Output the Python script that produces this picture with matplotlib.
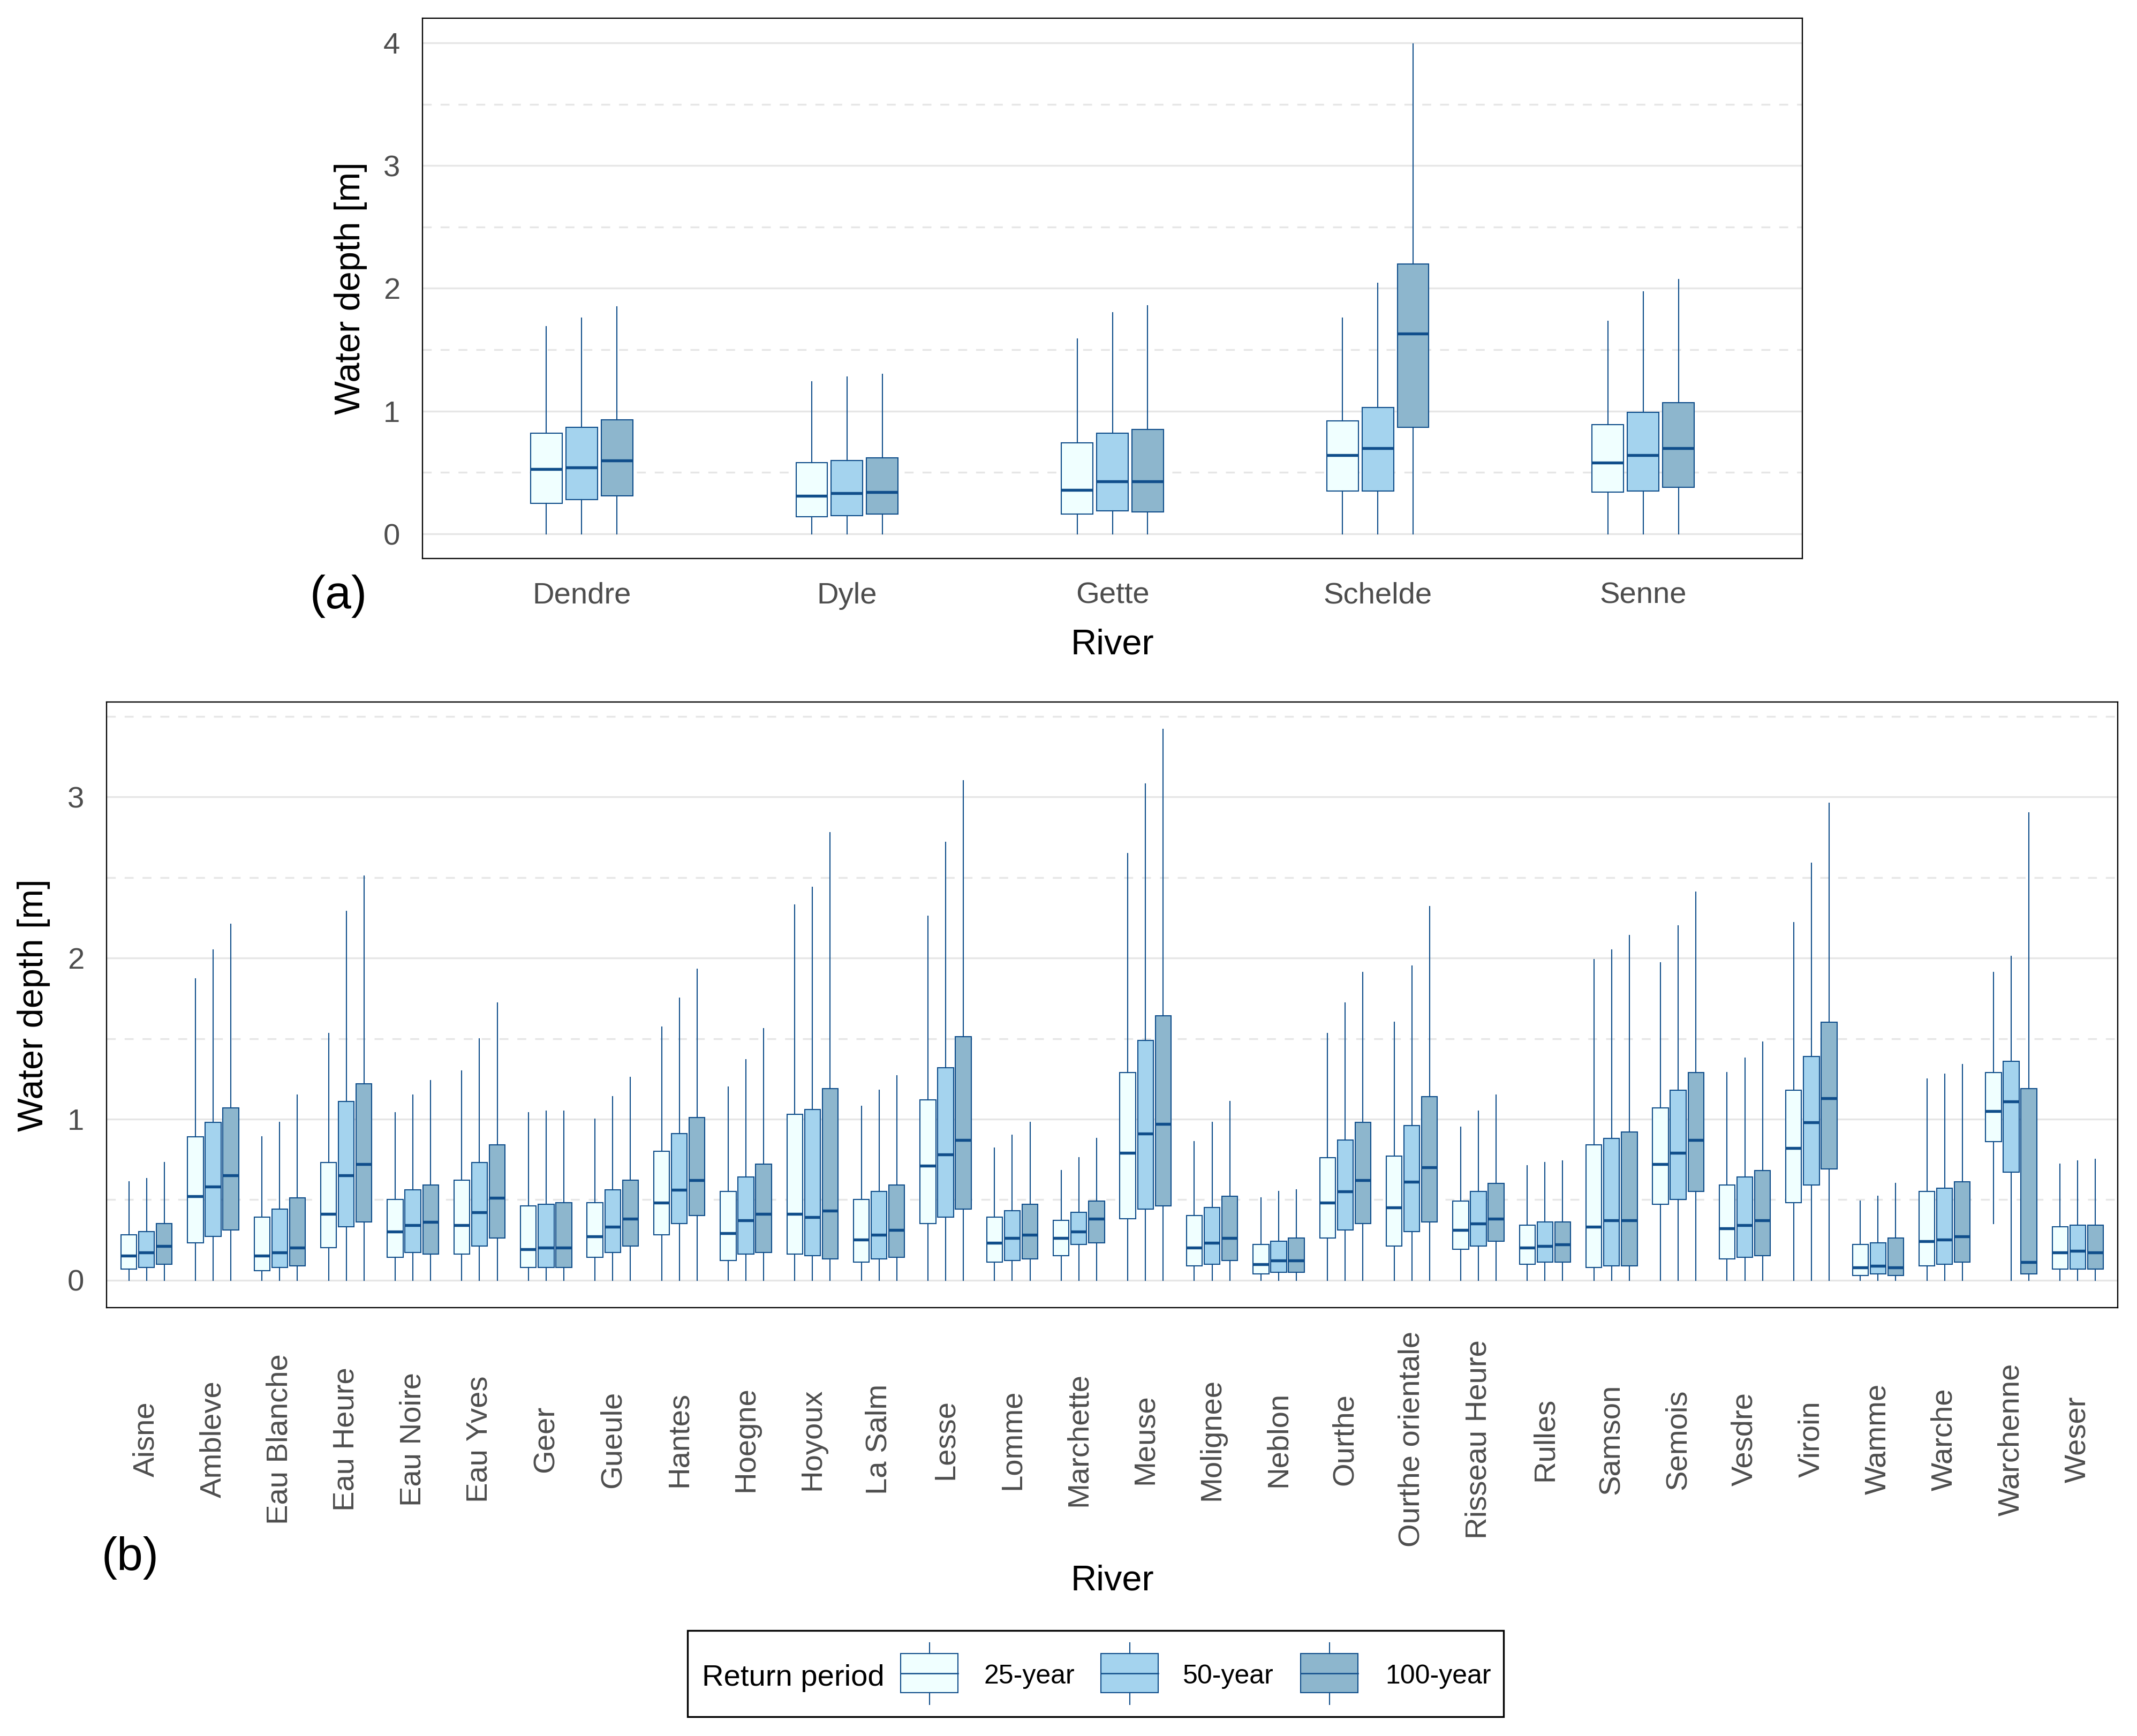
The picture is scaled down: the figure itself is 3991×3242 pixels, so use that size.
import numpy as np
import matplotlib
matplotlib.use("Agg")
import matplotlib.pyplot as plt
from matplotlib.patches import Rectangle
from matplotlib.ticker import MultipleLocator

plt.rcParams['font.family'] = ['Liberation Sans', 'DejaVu Sans']

W, H = 3991, 3242

periods = ['25-year', '50-year', '100-year']
fills = ['#F0FFFF', '#A4D3EE', '#8DB6CD']
edge = '#104E8B'
tick_col = '#4D4D4D'
grid_col = '#E6E6E6'

# ---------------- panel (a) data: one row per river, columns = 25 / 50 / 100-year
rivers_a = ['Dendre', 'Dyle', 'Gette', 'Schelde', 'Senne']
a_lo = [[0, 0, 0], [0, 0, 0], [0, 0, 0], [0, 0, 0], [0, 0, 0]]
a_q1 = [[0.25, 0.28, 0.31], [0.14, 0.15, 0.16], [0.16, 0.19, 0.18], [0.35, 0.35, 0.87], [0.34, 0.35, 0.38]]
a_med = [[0.53, 0.54, 0.60], [0.31, 0.33, 0.34], [0.36, 0.43, 0.43], [0.64, 0.70, 1.63], [0.58, 0.64, 0.70]]
a_q3 = [[0.82, 0.87, 0.93], [0.58, 0.60, 0.62], [0.74, 0.82, 0.85], [0.92, 1.03, 2.20], [0.89, 0.99, 1.07]]
a_hi = [[1.69, 1.76, 1.85], [1.24, 1.28, 1.30], [1.59, 1.80, 1.86], [1.76, 2.04, 3.99], [1.73, 1.97, 2.07]]

# ---------------- panel (b) data
rivers_b = ['Aisne', 'Ambleve', 'Eau Blanche', 'Eau Heure', 'Eau Noire', 'Eau Yves', 'Geer',
            'Gueule', 'Hantes', 'Hoegne', 'Hoyoux', 'La Salm', 'Lesse', 'Lomme', 'Marchette',
            'Meuse', 'Molignee', 'Neblon', 'Ourthe', 'Ourthe orientale', 'Risseau Heure',
            'Rulles', 'Samson', 'Semois', 'Vesdre', 'Viroin', 'Wamme', 'Warche', 'Warchenne', 'Weser']
b_hi = [[0.61, 0.63, 0.73], [1.87, 2.05, 2.21], [0.89, 0.98, 1.15], [1.53, 2.29, 2.51],
        [1.04, 1.15, 1.24], [1.30, 1.50, 1.72], [1.04, 1.05, 1.05], [1.00, 1.14, 1.26],
        [1.57, 1.75, 1.93], [1.20, 1.37, 1.56], [2.33, 2.44, 2.78], [1.08, 1.18, 1.27],
        [2.26, 2.72, 3.10], [0.82, 0.90, 0.98], [0.68, 0.76, 0.88], [2.65, 3.08, 3.42],
        [0.86, 0.98, 1.11], [0.51, 0.55, 0.56], [1.53, 1.72, 1.91], [1.60, 1.95, 2.32],
        [0.95, 1.05, 1.15], [0.71, 0.73, 0.74], [1.99, 2.05, 2.14], [1.97, 2.20, 2.41],
        [1.29, 1.38, 1.48], [2.22, 2.59, 2.96], [0.49, 0.52, 0.60], [1.25, 1.28, 1.34],
        [1.91, 2.01, 2.90], [0.72, 0.74, 0.75]]
b_q3 = [[0.28, 0.30, 0.35], [0.89, 0.98, 1.07], [0.39, 0.44, 0.51], [0.73, 1.11, 1.22],
        [0.50, 0.56, 0.59], [0.62, 0.73, 0.84], [0.46, 0.47, 0.48], [0.48, 0.56, 0.62],
        [0.80, 0.91, 1.01], [0.55, 0.64, 0.72], [1.03, 1.06, 1.19], [0.50, 0.55, 0.59],
        [1.12, 1.32, 1.51], [0.39, 0.43, 0.47], [0.37, 0.42, 0.49], [1.29, 1.49, 1.64],
        [0.40, 0.45, 0.52], [0.22, 0.24, 0.26], [0.76, 0.87, 0.98], [0.77, 0.96, 1.14],
        [0.49, 0.55, 0.60], [0.34, 0.36, 0.36], [0.84, 0.88, 0.92], [1.07, 1.18, 1.29],
        [0.59, 0.64, 0.68], [1.18, 1.39, 1.60], [0.22, 0.23, 0.26], [0.55, 0.57, 0.61],
        [1.29, 1.36, 1.19], [0.33, 0.34, 0.34]]
b_med = [[0.15, 0.17, 0.21], [0.52, 0.58, 0.65], [0.15, 0.17, 0.20], [0.41, 0.65, 0.72],
         [0.30, 0.34, 0.36], [0.34, 0.42, 0.51], [0.19, 0.20, 0.20], [0.27, 0.33, 0.38],
         [0.48, 0.56, 0.62], [0.29, 0.37, 0.41], [0.41, 0.39, 0.43], [0.25, 0.28, 0.31],
         [0.71, 0.78, 0.87], [0.23, 0.26, 0.28], [0.26, 0.30, 0.38], [0.79, 0.91, 0.97],
         [0.20, 0.23, 0.26], [0.10, 0.12, 0.12], [0.48, 0.55, 0.62], [0.45, 0.61, 0.70],
         [0.31, 0.35, 0.38], [0.20, 0.21, 0.22], [0.33, 0.37, 0.37], [0.72, 0.79, 0.87],
         [0.32, 0.34, 0.37], [0.82, 0.98, 1.13], [0.08, 0.09, 0.08], [0.24, 0.25, 0.27],
         [1.05, 1.11, 0.11], [0.17, 0.18, 0.17]]
b_q1 = [[0.07, 0.08, 0.10], [0.23, 0.27, 0.31], [0.06, 0.08, 0.09], [0.20, 0.33, 0.36],
        [0.14, 0.17, 0.16], [0.16, 0.21, 0.26], [0.08, 0.08, 0.08], [0.14, 0.17, 0.21],
        [0.28, 0.35, 0.40], [0.12, 0.16, 0.17], [0.16, 0.15, 0.13], [0.11, 0.13, 0.14],
        [0.35, 0.39, 0.44], [0.11, 0.12, 0.13], [0.15, 0.22, 0.23], [0.38, 0.44, 0.46],
        [0.09, 0.10, 0.12], [0.04, 0.05, 0.05], [0.26, 0.31, 0.35], [0.21, 0.30, 0.36],
        [0.19, 0.21, 0.24], [0.10, 0.11, 0.11], [0.08, 0.09, 0.09], [0.47, 0.50, 0.55],
        [0.13, 0.14, 0.15], [0.48, 0.59, 0.69], [0.03, 0.04, 0.03], [0.09, 0.10, 0.11],
        [0.86, 0.67, 0.04], [0.07, 0.07, 0.07]]
b_lo = [[0, 0, 0]] * 28 + [[0.35, 0, 0], [0, 0, 0]]


def draw_boxes(ax, lo, q1, med, q3, hi, step, width):
    n = len(med)
    x = np.arange(1, n + 1)
    for k in range(3):
        stats = []
        for i in range(n):
            stats.append(dict(whislo=lo[i][k], q1=q1[i][k], med=med[i][k],
                              q3=q3[i][k], whishi=hi[i][k], fliers=[]))
        ax.bxp(stats, positions=x + (k - 1) * step, widths=width,
               patch_artist=True, showcaps=False, showfliers=False, manage_ticks=False,
               boxprops=dict(facecolor=fills[k], edgecolor=edge, linewidth=0.5),
               medianprops=dict(color=edge, linewidth=1.3, solid_capstyle='butt'),
               whiskerprops=dict(color=edge, linewidth=0.5))


def style_axis(ax, names):
    ax.set_xlim(0.4, len(names) + 0.6)
    ax.set_xticks(np.arange(1, len(names) + 1))
    ax.set_xticklabels(names)
    ax.yaxis.set_major_locator(MultipleLocator(1))
    ax.yaxis.set_minor_locator(MultipleLocator(0.5))
    ax.set_axisbelow(True)
    ax.yaxis.grid(True, which='major', color=grid_col, lw=0.8)
    ax.yaxis.grid(True, which='minor', color=grid_col, lw=0.8, linestyle=(0, (5, 5)))
    for s in ax.spines.values():
        s.set_linewidth(0.55)
        s.set_color('black')
    ax.tick_params(axis='both', which='both', length=0, labelcolor=tick_col, labelsize=13.5)
    ax.tick_params(axis='y', pad=10)


fig = plt.figure(figsize=(W / 300, H / 300), dpi=300)

# panel (a)
ax1 = fig.add_axes([789 / W, 1 - 1043 / H, (3366 - 789) / W, (1043 - 34) / H])
draw_boxes(ax1, a_lo, a_q1, a_med, a_q3, a_hi, 0.133, 0.119)
style_axis(ax1, rivers_a)
ax1.set_ylim(-0.2, 4.2)
ax1.tick_params(axis='x', pad=10.5)

# panel (b)
ax2 = fig.add_axes([199 / W, 1 - 2442 / H, (3955 - 199) / W, (2442 - 1311) / H])
draw_boxes(ax2, b_lo, b_q1, b_med, b_q3, b_hi, 0.266, 0.236)
style_axis(ax2, rivers_b)
ax2.set_ylim(-0.171, 3.59)
ax2.tick_params(axis='x', pad=59)
for lab in ax2.get_xticklabels():
    lab.set_rotation(90)
    lab.set_va('center')
    lab.set_ha('center')

# axis titles and panel letters
fig.text(655 / W, 1 - 538 / H, 'Water depth [m]', rotation=90, ha='center', va='center', fontsize=16)
fig.text(63 / W, 1 - 1877 / H, 'Water depth [m]', rotation=90, ha='center', va='center', fontsize=16)
fig.text(2077 / W, 1 - 1222 / H, 'River', ha='center', va='baseline', fontsize=16)
fig.text(2077 / W, 1 - 2969 / H, 'River', ha='center', va='baseline', fontsize=16)
fig.text(632 / W, 1 - 1113 / H, '(a)', ha='center', va='center', fontsize=21)
fig.text(243 / W, 1 - 2909 / H, '(b)', ha='center', va='center', fontsize=21)

# legend drawn in its own axes (pixel units)
lw_, lh_ = 1524, 161
lax = fig.add_axes([1284 / W, 1 - 3206 / H, lw_ / W, lh_ / H])
lax.set_xlim(0, lw_)
lax.set_ylim(0, lh_)
lax.axis('off')
lax.add_patch(Rectangle((0, 0), lw_, lh_, fill=False, ec='black', lw=0.8, clip_on=False))
lax.text(27, 58, 'Return period', fontsize=13.5, va='baseline', ha='left')
key_x = [451.5, 825.5, 1198.5]
lab_x = [553, 925, 1303]
for k in range(3):
    cx = key_x[k]
    lax.add_patch(Rectangle((cx - 53.5, 45), 107, 73, fc=fills[k], ec=edge, lw=0.5))
    lax.plot([cx - 53.5, cx + 53.5], [81, 81], color=edge, lw=0.6)
    lax.plot([cx, cx], [23, 45], color=edge, lw=0.5)
    lax.plot([cx, cx], [118, 138], color=edge, lw=0.5)
    lax.text(lab_x[k], 62, periods[k], fontsize=12, va='baseline', ha='left')

fig.savefig('out.png', dpi=300)
